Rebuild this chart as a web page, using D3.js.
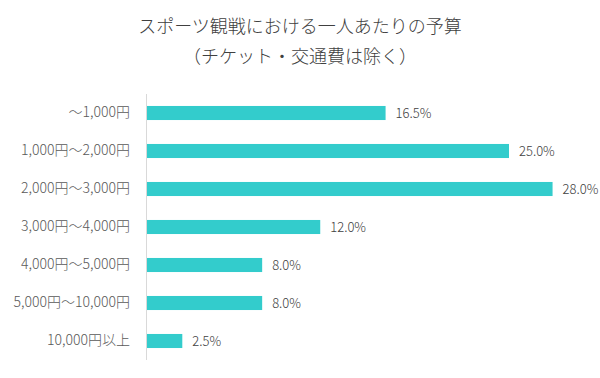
<!DOCTYPE html>
<html><head><meta charset="utf-8">
<script src="https://cdn.jsdelivr.net/npm/d3@7"></script>
<style>
body{margin:0;background:#fff;}
svg{display:block;}
</style></head>
<body>
<svg id="chart" width="600" height="378"></svg>
<script>
const titleLines = ["スポーツ観戦における一人あたりの予算", "（チケット・交通費は除く）"];
const categories = ["〜1,000円", "1,000円〜2,000円", "2,000円〜3,000円", "3,000円〜4,000円", "4,000円〜5,000円", "5,000円〜10,000円", "10,000円以上"];
const values = [16.5, 25.0, 28.0, 12.0, 8.0, 8.0, 2.5];

const svg = d3.select("#chart");
const numFont = "'Noto Sans CJK JP', sans-serif";
const x = d3.scaleLinear().domain([0, 30]).range([146, 581.6]);
const y = d3.scaleBand().domain(categories).range([94, 360]).paddingInner(0.63).paddingOuter(0.315);

svg.append("g").selectAll("text").data(titleLines).join("text")
  .attr("x", 300).attr("y", (d, i) => 33 + i * 30)
  .attr("text-anchor", "middle")
  .attr("font-family", "'Noto Sans CJK JP', sans-serif")
  .attr("font-size", 18).attr("font-weight", 300).attr("fill", "#404040")
  .text(d => d);

svg.append("g").selectAll("rect").data(values).join("rect")
  .attr("x", x(0)).attr("y", (d, i) => y(categories[i]))
  .attr("width", d => x(d) - x(0)).attr("height", y.bandwidth())
  .attr("fill", "#33CCCC");

const yAxis = svg.append("g").attr("transform", `translate(${x(0)},0)`)
  .call(d3.axisLeft(y).tickSize(0).tickPadding(16));
yAxis.select(".domain").attr("stroke", "#d9d9d9").attr("d", "M0.5,94V360");
yAxis.selectAll("text").attr("font-family", numFont).attr("font-size", 14).attr("font-weight", 300).attr("fill", "#595959");

svg.append("g").selectAll("text").data(values).join("text")
  .attr("x", d => x(d) + 10).attr("y", (d, i) => y(categories[i]) + y.bandwidth() / 2)
  .attr("dy", "0.35em")
  .attr("font-family", numFont).attr("font-size", 13).attr("font-weight", 300).attr("fill", "#404040")
  .text(d => d.toFixed(1) + "%");
</script>
</body></html>
